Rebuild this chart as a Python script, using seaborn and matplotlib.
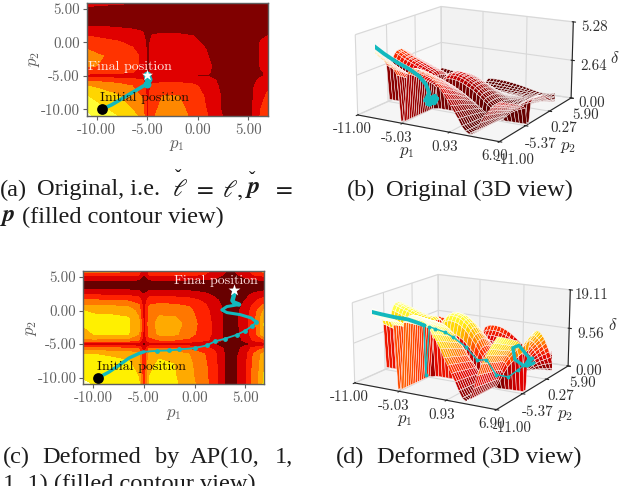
import numpy as np
import matplotlib
matplotlib.use("Agg")
import matplotlib.pyplot as plt
from matplotlib.colors import LinearSegmentedColormap
import seaborn as sns

P1_KNOTS = [-11,-10,-8,-6.5,-5.5,-5,-4.5,-3.5,-2,-0.5,1,2,3.5,5,5.7,6.2,6.9]
P2_KNOTS_A = [-11,-10,-8,-6.5,-5.6,-5,-4.4,-3.5,-2,-1,0,1,2,3.5,5,5.9]
Z_A = [
 [6.2,5.7,5.0,4.3,3.7,1.8,2.9,3.3,3.4,2.8,2.0,1.2,0.5,0.6,1.4,2.1,2.4],
 [5.7,5.3,4.7,4.0,3.4,1.8,2.8,3.2,3.3,2.7,1.9,1.1,0.5,0.6,1.3,2.0,2.3],
 [5.0,4.7,4.1,3.4,2.9,1.7,2.6,3.0,3.05,2.5,1.8,1.1,0.5,0.6,1.2,1.8,2.1],
 [4.0,3.8,3.4,3.0,2.6,1.6,2.2,2.4,2.4,2.2,1.6,1.0,0.5,0.6,1.1,1.6,1.9],
 [2.8,2.7,2.5,2.3,2.1,1.3,1.6,1.7,1.7,1.6,1.3,0.9,0.5,0.6,0.9,1.2,1.4],
 [1.5,1.5,1.4,1.3,1.0,0.8,0.95,0.95,0.95,0.95,0.95,0.7,0.4,0.5,0.7,0.9,1.1],
 [2.6,2.5,2.4,2.1,1.6,0.8,1.2,1.3,1.3,1.25,1.1,0.7,0.4,0.5,0.7,0.95,1.1],
 [3.1,3.0,2.8,2.4,1.8,0.8,1.3,1.5,1.5,1.4,1.15,0.7,0.4,0.5,0.7,1.05,1.4],
 [3.2,3.1,2.8,2.4,1.8,0.8,1.4,1.6,1.6,1.4,1.0,0.7,0.4,0.5,0.7,1.1,1.5],
 [3.0,2.8,2.4,2.1,1.6,0.8,1.3,1.5,1.5,1.3,0.95,0.7,0.4,0.5,0.7,1.1,1.5],
 [2.4,2.3,2.1,1.8,1.4,0.8,1.2,1.4,1.3,1.15,0.85,0.6,0.4,0.5,0.7,1.05,1.3],
 [2.0,1.9,1.7,1.5,1.2,0.7,1.05,1.1,1.1,1.0,0.7,0.5,0.3,0.4,0.6,0.9,1.0],
 [1.2,1.2,1.1,1.0,0.9,0.6,0.8,0.8,0.8,0.7,0.6,0.4,0.3,0.3,0.4,0.6,0.7],
 [0.5,0.5,0.5,0.5,0.4,0.3,0.4,0.4,0.4,0.4,0.3,0.3,0.2,0.2,0.3,0.3,0.3],
 [0.9,0.8,0.7,0.5,0.4,0.3,0.4,0.4,0.4,0.4,0.3,0.3,0.2,0.2,0.3,0.3,0.3],
 [1.2,1.15,1.1,1.02,0.9,0.5,0.5,0.5,0.5,0.5,0.5,0.4,0.3,0.3,0.3,0.4,0.4],
]
P2_KNOTS_C = [-11,-10,-8,-6.5,-5.6,-5,-4.4,-3.5,-2,-1,0,0.8,1.6,2.4,3.5,4.6,5.3,5.9]
Z_C = [
 [6.4,5.8,5.5,5.3,5.1,1.8,5.0,5.3,5.2,4.4,3.4,2.4,0.3,1.8,3.2,3.8,5.3],
 [5.8,5.6,5.4,5.2,5.0,1.8,5.0,5.2,5.1,4.3,3.3,2.3,0.3,1.7,3.1,3.7,5.1],
 [5.5,5.4,5.2,5.1,4.7,1.7,4.8,5.1,5.0,4.2,3.2,2.3,0.3,1.7,3.0,3.6,5.0],
 [5.0,5.0,4.9,4.8,4.2,1.6,4.3,4.9,4.8,4.0,3.0,2.2,0.3,1.6,2.9,3.4,4.5],
 [3.2,3.2,3.1,3.0,2.8,1.3,2.9,3.0,3.0,2.8,2.3,1.8,0.3,1.3,2.2,2.6,3.0],
 [1.3,1.3,1.3,1.3,1.2,0.7,1.2,1.3,1.3,1.3,1.2,1.0,0.3,0.8,1.0,1.0,1.2],
 [3.8,3.8,3.7,3.6,3.0,1.2,2.8,3.0,3.0,2.8,2.2,1.7,0.3,1.2,2.0,2.5,2.9],
 [4.6,5.0,5.1,5.0,4.0,1.5,3.2,4.2,4.2,3.4,2.4,1.8,0.3,1.4,2.4,3.1,5.0],
 [5.1,5.2,5.2,5.1,4.2,1.6,3.4,4.4,4.4,3.6,2.4,1.8,0.3,1.5,2.5,3.2,5.1],
 [5.1,5.1,5.1,5.0,4.0,1.5,3.3,4.1,4.1,3.4,2.4,1.7,0.3,1.5,2.5,3.2,4.9],
 [5.0,4.9,4.8,4.6,3.6,1.5,3.1,3.6,3.5,3.2,2.3,1.6,0.3,1.4,2.3,3.0,4.2],
 [4.0,4.0,3.9,3.7,3.1,1.4,3.0,3.2,3.1,2.9,2.1,1.5,0.3,1.2,2.0,2.6,3.2],
 [3.0,3.0,2.9,2.8,2.5,1.2,2.5,2.6,2.5,2.3,1.8,1.2,0.3,1.0,1.6,2.0,2.4],
 [1.9,1.9,1.9,1.8,1.6,1.0,1.6,1.7,1.6,1.5,1.2,0.8,0.3,0.7,1.1,1.3,1.5],
 [0.5,0.5,0.5,0.5,0.5,0.4,0.5,0.5,0.5,0.5,0.4,0.4,0.2,0.3,0.4,0.4,0.5],
 [1.1,1.1,1.1,1.1,1.0,0.6,1.0,1.1,1.1,1.0,1.0,0.9,0.4,0.8,1.0,1.0,1.1],
 [2.2,2.2,2.2,2.2,2.0,0.8,2.0,2.1,2.2,2.1,1.9,1.4,0.6,1.3,1.9,2.1,2.3],
 [3.3,3.3,3.3,3.2,2.6,0.9,2.4,3.1,3.2,3.1,2.5,1.6,0.8,1.5,2.4,3.0,3.4],
]
BAND_COLORS_A = ["#800000","#e00000","#ff3300","#ff8800","#ffd500","#ffff33","#ffffc8"]
BAND_COLORS_C = ["#680000","#d80000","#ff2200","#ff7700","#ffaa00","#fff000","#ffffc8"]

TRAJ_A_P1 = [-9.5,-8.5,-7.5,-6.5,-5.5,-5.0,-4.9,-5.0]
TRAJ_A_P2 = [-10,-9.3,-8.4,-7.5,-6.6,-6.2,-5.5,-4.8]
TRAJ_C_P1_A = [-9.5,-8.5,-7.5,-6.5,-5.5,-5.0]
TRAJ_C_P2_A = [-10,-9.2,-8.2,-7.1,-6.4,-6.15]
TRAJ_C_P1_B = [-5.0,-3.7,-2.5,-1.5,0.0,1.2,2.0,3.0,4.2,5.0,5.7,6.1]
TRAJ_C_P2_B = [-6.15,-6.0,-5.95,-5.8,-5.6,-5.2,-4.6,-4.2,-3.6,-3.0,-2.3,-1.7]
TRAJ_C_P1_C = [6.1,5.6,4.5,3.2,2.7,3.2,4.4,3.9,3.75,3.9,3.9]
TRAJ_C_P2_C = [-1.7,-1.1,-0.6,-0.3,0.1,0.6,0.9,1.2,1.5,2.3,3.0]

TICKS_2D = [-10,-5,0,5]

P1_GRID = [-11,-10.55,-10.1,-9.66,-9.21,-8.76,-8.31,-7.87,-7.42,-6.97,-6.53,-6.08,-5.63,-5.18,-4.74,-4.29,-3.84,-3.39,-2.95,-2.5,-2.05,-1.6,-1.16,-0.71,-0.26,0.19,0.63,1.08,1.53,1.98,2.42,2.87,3.32,3.77,4.21,4.66,5.11,5.56,6.0,6.45,6.9]
P2_GRID = [-11,-10.58,-10.16,-9.73,-9.31,-8.89,-8.47,-8.04,-7.62,-7.2,-6.78,-6.35,-5.93,-5.51,-5.09,-4.66,-4.24,-3.82,-3.4,-2.98,-2.55,-2.13,-1.71,-1.29,-0.86,-0.44,-0.02,0.4,0.83,1.25,1.67,2.09,2.52,2.94,3.36,3.79,4.21,4.63,5.05,5.48,5.9]
# Cross-section heights read from the 3D views
B_P1 = [1,.97,.93,.89,.86,.83,.8,.77,.74,.71,.68,.65,.58,.02,.03,.62,.68,.7,.7,.69,.67,.64,.6,.56,.51,.45,.39,.32,.25,.18,.1,.05,.02,.03,.08,.18,.27,.33,.38,.42,.46]
B_P2 = [1,.97,.94,.9,.87,.83,.8,.76,.72,.68,.64,.6,.55,.48,.02,.02,.55,.6,.62,.62,.62,.6,.58,.55,.5,.45,.4,.34,.28,.23,.18,.14,.1,.06,.03,.02,.02,.04,.07,.1,.14]
D_P1 = [1,.98,.96,.94,.92,.9,.88,.86,.85,.84,.84,.84,.8,.02,.03,.85,.92,.95,.95,.94,.92,.88,.83,.76,.68,.6,.5,.42,.33,.24,.14,.06,.03,.06,.2,.36,.5,.6,.68,.76,.84]
D_P2 = [1,.99,.97,.95,.93,.91,.89,.87,.85,.83,.81,.78,.72,.6,.02,.02,.6,.74,.8,.82,.82,.81,.78,.74,.69,.63,.56,.48,.4,.3,.2,.1,.05,.02,.04,.1,.17,.24,.3,.36,.42]
Z_MAX_B, Z_MAX_D = 5.28, 19.11

BX = [-9.5,-8.5,-7.5,-6.5,-5.7,-5.1,-4.9,-5.6,-4.4,-5.6,-4.4,-5.5,-4.5,-5.0]
BY = [-10,-9.3,-8.4,-7.5,-6.8,-6.3,-6.0,-5.8,-5.6,-5.4,-5.3,-5.1,-5.0,-4.8]
BZ = [4.6,4.0,3.4,2.9,2.4,1.8,1.2,0.6,1.0,0.3,0.8,0.2,0.7,0.3]
DX1 = [-9.5,-8.5,-7.5,-6.5,-5.5,-5.05]
DY1 = [-10,-9.2,-8.2,-7.1,-6.4,-6.15]
DZ1 = [17.0,16.2,15.3,14.5,13.5,13.0]
DX2 = [-5.05,-4.9,-4.4,-3.7,-2.5,-1.5,0.0,1.2,2.0,3.0,4.2,5.0,5.7,6.1]
DY2 = [-6.15,-6.1,-6.05,-6.0,-5.95,-5.8,-5.6,-5.2,-4.6,-4.2,-3.6,-3.0,-2.3,-1.7]
DZ2 = [13.0,1.0,12.8,12.5,12.0,11.0,9.0,6.0,6.0,2.5,2.0,3.5,5.0,6.0]
DX3 = [6.1,5.6,4.5,3.2,2.7,3.2,4.4,3.9,3.75,3.9]
DY3 = [-1.7,-1.1,-0.6,-0.3,0.1,0.6,0.9,1.2,1.5,3.0]
DZ3 = [6.0,5.0,3.0,4.0,6.5,7.0,4.0,2.5,1.5,1.5]

X3_TICKS = [-11.00,-5.03,0.93,6.90]
Y3_TICKS = [-11.00,-5.37,0.27,5.90]
Z3_TICKS_B = [0.00,2.64,5.28]
Z3_TICKS_D = [0.00,9.56,19.11]

sns.set_style("white")
plt.rcParams["font.family"] = ["cmr10", "DejaVu Serif"]
plt.rcParams["axes.formatter.use_mathtext"] = True
plt.rcParams["mathtext.fontset"] = "cm"
plt.rcParams["axes.unicode_minus"] = False

W, H = 620, 486
CY = "#12b9bd"
GREY = "#606060"
DARK = "#303030"
fig = plt.figure(figsize=(W/100, H/100), dpi=100, facecolor="white")

def rect(l, r, t, b):
    return [l/W, 1-b/H, (r-l)/W, (b-t)/H]

def contour_panel(pos, y_knots, z, colors):
    ax = fig.add_axes(rect(*pos))
    ax.contourf(P1_KNOTS, y_knots, np.array(z), levels=np.arange(0, 8), colors=colors, extend="both")
    ax.set_xlim(-11, 6.9); ax.set_ylim(-11, 5.95)
    ax.set_xticks(TICKS_2D); ax.set_yticks(TICKS_2D)
    ax.set_xticklabels([f"{t:.2f}" for t in TICKS_2D], color=GREY, fontsize=10.8)
    ax.set_yticklabels([f"{t:.2f}" for t in TICKS_2D], color=GREY, fontsize=10.8)
    ax.tick_params(length=3, width=0.8, color=GREY, pad=2, bottom=True, left=True)
    for s in ax.spines.values():
        s.set_color(GREY); s.set_linewidth(1)
    ax.set_xlabel(r"$p_1$", color=GREY, fontsize=12, labelpad=1)
    ax.set_ylabel(r"$p_2$", color=GREY, fontsize=12, labelpad=-1)
    return ax

def line(ax, x, y, lw):
    sns.lineplot(x=x, y=y, sort=False, estimator=None, color=CY, lw=lw, ax=ax, zorder=3, solid_capstyle="round")

ax = contour_panel((86.7, 267.7, 2.7, 116), P2_KNOTS_A, Z_A, BAND_COLORS_A)
line(ax, TRAJ_A_P1, TRAJ_A_P2, 2.6)
ax.scatter(TRAJ_A_P1[5:], TRAJ_A_P2[5:], s=22, color=CY, zorder=3)
ax.scatter([-9.5], [-10], s=60, color="black", zorder=4, linewidths=0)
ax.scatter([-5], [-4.8], s=70, marker="*", color="white", zorder=5, linewidths=0)
ax.text(-10.9, -3.6, "Final position", color="#ffe8e0", fontsize=10, va="center", zorder=6)
ax.text(-9.7, -8.35, "Initial position", color="#201000", fontsize=10, va="center", zorder=6)

ax = contour_panel((83.3, 264.3, 270.7, 384.3), P2_KNOTS_C, Z_C, BAND_COLORS_C)
line(ax, TRAJ_C_P1_A, TRAJ_C_P2_A, 2.4)
line(ax, TRAJ_C_P1_B, TRAJ_C_P2_B, 1.3)
line(ax, TRAJ_C_P1_C[:7], TRAJ_C_P2_C[:7], 2.2)
line(ax, TRAJ_C_P1_C[6:], TRAJ_C_P2_C[6:], 3.2)
ax.scatter(TRAJ_C_P1_B[1:], TRAJ_C_P2_B[1:], s=6, color=CY, zorder=3)
ax.scatter([-9.5], [-10], s=60, color="black", zorder=4, linewidths=0)
ax.scatter([3.9], [3], s=80, marker="*", color="white", zorder=5, linewidths=0)
ax.text(-2.0, 4.35, "Final position", color="#ffe0e0", fontsize=10, va="center", zorder=6)
ax.text(-9.6, -8.4, "Initial position", color="#201000", fontsize=10, va="center", zorder=6)

CMAP = LinearSegmentedColormap.from_list("h", ["#5a0000","#a00000","#e00000","#ff3300","#ff8800","#ffd500","#ffff33","#ffffd0"])

def surf_panel(pos, fp1, fp2, zmax, zticks, colour_gain, gamma):
    ax = fig.add_axes(rect(*pos), projection="3d", computed_zorder=False)
    ax.view_init(elev=15, azim=-60)
    ax.set_box_aspect((4, 4, 2.05), zoom=1.28)
    X, Y = np.meshgrid(P1_GRID, P2_GRID)
    Z = zmax * np.outer(fp2, fp1)
    Zc = Z.copy()
    Zc[:-1, :-1] = (Z[:-1, :-1] + Z[1:, :-1] + Z[:-1, 1:] + Z[1:, 1:]) / 4
    fc = CMAP(np.clip((Zc / zmax) ** gamma * colour_gain, 0, 1))
    ax.plot_surface(X, Y, Z, facecolors=fc, edgecolor="white", linewidth=0.35, shade=False,
                    rstride=1, cstride=1, zorder=1, antialiased=True)
    ax.set_xlim(-11, 6.9); ax.set_ylim(-11, 5.9); ax.set_zlim(0, zmax)
    ax.set_xticks(X3_TICKS); ax.set_yticks(Y3_TICKS); ax.set_zticks(zticks)
    ax.set_xticklabels([f"{t:.2f}" for t in X3_TICKS], fontsize=10.8, color=DARK)
    ax.set_yticklabels([f"{t:.2f}" for t in Y3_TICKS], fontsize=10.8, color=DARK)
    ax.set_zticklabels([f"{t:.2f}" for t in zticks], fontsize=10.8, color=DARK)
    ax.tick_params(axis="x", pad=-4)
    ax.tick_params(axis="y", pad=-1)
    ax.tick_params(axis="z", pad=-1)
    ax.patch.set_alpha(0)
    for a in (ax.xaxis, ax.yaxis, ax.zaxis):
        a._axinfo["grid"]["color"] = "#d8d8d8"
        a._axinfo["grid"]["linewidth"] = 0.8
    return ax

ax = surf_panel((320, 610, -20, 160), B_P1, B_P2, Z_MAX_B, Z3_TICKS_B, 1.0, 1.6)
ax.plot(BX, BY, BZ, color=CY, lw=2.8, zorder=5)
ax = surf_panel((317, 607, 248, 428), D_P1, D_P2, Z_MAX_D, Z3_TICKS_D, 1.15, 1.0)
ax.plot(DX1, DY1, DZ1, color=CY, lw=2.8, zorder=5)
ax.plot(DX2, DY2, DZ2, color=CY, lw=1.0, marker="o", ms=1.8, zorder=5)
ax.plot(DX3, DY3, DZ3, color=CY, lw=2.4, zorder=5)

for x, y, s in [(407,152,r"$p_1$"),(568,147,r"$p_2$"),(615,58,r"$\delta$"),
                (405,420,r"$p_1$"),(565,415,r"$p_2$"),(613,325,r"$\delta$")]:
    fig.text(x/W, 1-y/H, s, fontsize=12, color=DARK, ha="center", va="center")

def cap(x, y, s, size=17.6):
    fig.text(x/W, 1-y/H, s, fontsize=size, family=["Liberation Serif", "DejaVu Serif"],
             va="center", ha="left", color="#1c1c1c", math_fontfamily="stix")

cap(0, 190, "(a)")
cap(37, 190, "Original, i.e.")
cap(172, 190, r"$\ell$")
cap(175, 177, "ˇ", 14)
cap(193, 190, r"$=$")
cap(222, 190, r"$\ell,$")
cap(245, 190, r"$\mathbfit{p}$")
cap(249, 180, "ˇ", 14)
cap(272, 190, r"$=$")
cap(0, 217, r"$\mathbfit{p}$")
cap(22, 217, "(filled contour view)")
cap(347, 190, "(b)")
cap(386, 190, "Original (3D view)")
cap(3, 457, "(c)")
cap(42, 457, "Deformed")
cap(155, 457, "by")
cap(190, 457, "AP(10,")
cap(275, 457, "1,")
cap(3, 484, "1, 1) (filled contour view)")
cap(336, 457, "(d)")
cap(377, 457, "Deformed (3D view)")

fig.savefig("out.png", dpi=100, facecolor="white")
